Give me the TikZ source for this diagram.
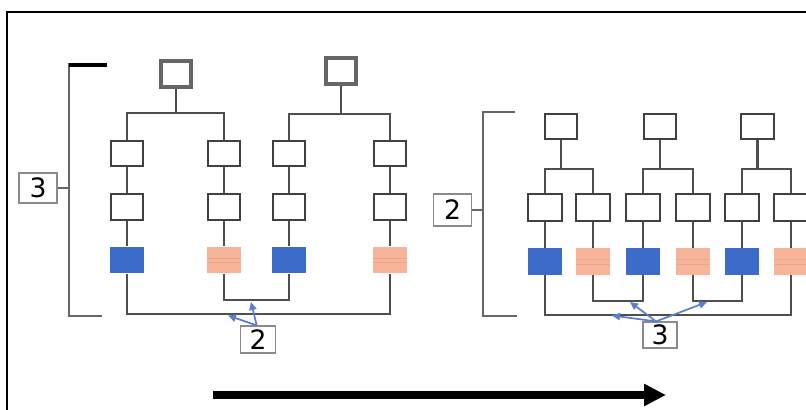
\documentclass[tikz,border=0pt]{standalone}
\usepackage{fontspec}
\newfontfamily\labfont{DejaVu Sans}
\usetikzlibrary{arrows.meta}
\definecolor{boxline}{HTML}{404040}
\definecolor{conn}{HTML}{4E4E4E}
\definecolor{topline}{HTML}{666666}
\definecolor{bracketc}{HTML}{666666}
\definecolor{blueC}{HTML}{3C6BC9}
\definecolor{salmonC}{HTML}{F6B59B}
\definecolor{salmonline}{HTML}{EFA585}
\definecolor{arrowblue}{HTML}{5A80CC}
\definecolor{labline}{HTML}{8A8A8A}
\begin{document}
\begin{tikzpicture}[x=0.75pt,y=-0.75pt,
  wbox/.style={draw=boxline, line width=1.6pt, fill=white, inner sep=0pt,
    minimum width=24.2pt, minimum height=19.2pt},
  topbox/.style={draw=topline, line width=2.8pt, fill=white, inner sep=0pt,
    minimum width=22.7pt, minimum height=19.7pt},
  bluebox/.style={fill=blueC, inner sep=0pt, minimum width=25.5pt, minimum height=20pt},
  salbox/.style={fill=salmonC, inner sep=0pt, minimum width=25.5pt, minimum height=20pt,
    path picture={
      \draw[salmonline, line width=0.5pt]
        ([yshift=1.5pt]path picture bounding box.west) -- ([yshift=1.5pt]path picture bounding box.east)
        ([yshift=-2pt]path picture bounding box.west) -- ([yshift=-2pt]path picture bounding box.east);}},
  conn/.style={draw=conn, line width=1.7pt},
  bracket/.style={draw=bracketc, line width=1.9pt},
  lab/.style={draw=labline, line width=0.9pt, fill=white, inner sep=0pt,
    font=\labfont\fontsize{20}{20}\selectfont},
  bluearrow/.style={draw=arrowblue, line width=1.3pt, -{Triangle[length=6pt,width=5.5pt]}},
  bigarrow/.style={draw=black, line width=6pt, -{Triangle[length=16.5pt,width=15.75pt]}}
]
\useasboundingbox (0,0) rectangle (806,410);

% frame
\draw[black, line width=1.9pt] (7,411) -- (7,12) -- (807,12);

% ===== left diagram =====
\node[topbox] (LT1) at (176,74) {};
\node[topbox] (LT2) at (341,71) {};
\foreach \i/\x in {1/127,2/224,3/289,4/390}{
  \node[wbox] (LA\i) at (\x,153.5) {};
  \node[wbox] (LB\i) at (\x,207) {};
}
\node[bluebox] (LC1) at (127,260) {};
\node[salbox]  (LC2) at (224,260) {};
\node[bluebox] (LC3) at (289,260) {};
\node[salbox]  (LC4) at (390,260) {};

\coordinate (lj1) at (176,113);
\coordinate (lj2) at (341,114);
\coordinate (lk1) at (256,300);
\coordinate (lk2) at (258,314);

\draw[conn] (LT1.south) -- (lj1);
\draw[conn] (LT2.south) -- (lj2);
\draw[conn] (LA1.north) |- (lj1) -| (LA2.north);
\draw[conn] (LA3.north) |- (lj2) -| (LA4.north);
\foreach \i in {1,2,3,4}{
  \draw[conn] (LA\i.south) -- (LB\i.north);
  \draw[conn] (LB\i.south) -- (LC\i.north);
}
\draw[conn] (LC2.south) |- (lk1) -| (LC3.south);
\draw[conn] (LC1.south) |- (lk2) -| (LC4.south);

% bracket 3
\coordinate (b3top) at (69,63);
\coordinate (b3bot) at (69,316);
\coordinate (b3mid) at (69,188);
\draw[bracket] (102,316) -- (b3bot) -- (b3top);
\draw[black, line width=2.4pt] (68.5,65) -- (107,65);
\node[lab, minimum width=28.5pt, minimum height=22.5pt] (L3) at (38,188) {3};
\draw[bracket] (L3.east) -- (b3mid);

% label 2 and arrows
\node[lab, minimum width=26pt, minimum height=20.25pt] (L2) at (258,339.5) {2};
\coordinate (la1) at (251,302);
\coordinate (la2) at (228,315.5);
\draw[bluearrow] ([xshift=-1pt]L2.north) -- (la1);
\draw[bluearrow] ([xshift=-1pt]L2.north) -- (la2);

% ===== right diagram =====
\node[wbox] (RT1) at (561,126.5) {};
\node[wbox] (RT2) at (660,126.5) {};
\node[wbox] (RT3) at (757.5,126.5) {};
\foreach \i/\x in {1/545,2/593,3/643,4/693,5/742,6/791}{
  \node[wbox, minimum width=25pt, minimum height=20.2pt] (RA\i) at (\x,207.5) {};
}
\node[bluebox] (RC1) at (545,261.5) {};
\node[salbox]  (RC2) at (593,261.5) {};
\node[bluebox] (RC3) at (643,261.5) {};
\node[salbox]  (RC4) at (693,261.5) {};
\node[bluebox] (RC5) at (742,261.5) {};
\node[salbox]  (RC6) at (791,261.5) {};

\coordinate (rj1) at (561,169);
\coordinate (rj2) at (660,169);
\coordinate (rj3) at (757.5,169);
\coordinate (rk1) at (618,301);
\coordinate (rk2) at (717,301);
\coordinate (rk3) at (668,315);

\draw[conn] (RT1.south) -- (rj1);
\draw[conn] (RT2.south) -- (rj2);
\draw[conn] (RT3.south) -- (rj3);
\draw[conn] (RA1.north) |- (rj1) -| (RA2.north);
\draw[conn] (RA3.north) |- (rj2) -| (RA4.north);
\draw[conn] (RA5.north) |- (rj3) -| (RA6.north);
\foreach \i in {1,...,6}{
  \draw[conn] (RA\i.south) -- (RC\i.north);
}
\draw[conn] (RC2.south) |- (rk1) -| (RC3.south);
\draw[conn] (RC4.south) |- (rk2) -| (RC5.south);
\draw[conn] (RC1.south) |- (rk3) -| (RC6.south);

% bracket 2
\coordinate (b2top) at (483,112);
\coordinate (b2bot) at (483,316);
\draw[bracket] (515,112) -- (b2top) -- (b2bot) -- (517,316);
\node[lab, minimum width=29pt, minimum height=24pt] (LB2) at (452.5,210) {2};
\coordinate (b2mid) at (483,210);
\draw[bracket] (LB2.east) -- (b2mid);

% label 3 and arrows
\node[lab, minimum width=25.5pt, minimum height=19.5pt] (LR3) at (660,335) {3};
\coordinate (ra1) at (630,302);
\coordinate (ra2) at (707,302);
\coordinate (ra3) at (612,315.5);
\draw[bluearrow] ([xshift=-3pt]LR3.north) -- (ra1);
\draw[bluearrow] ([xshift=-3pt]LR3.north) -- (ra2);
\draw[bluearrow] ([xshift=-3pt]LR3.north) -- (ra3);

% big arrow
\coordinate (arS) at (213,395);
\coordinate (arE) at (666,395);
\draw[bigarrow] (arS) -- (arE);
\end{tikzpicture}
\end{document}
